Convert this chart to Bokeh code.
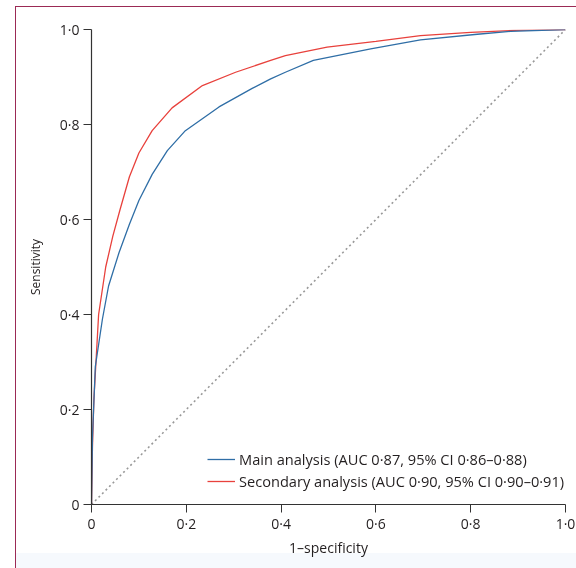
from bokeh.plotting import figure
from bokeh.models import Range1d, FixedTicker, Legend, LegendItem, InlineStyleSheet
from bokeh.embed import file_html
from bokeh.resources import INLINE

# Data
main_fpr = [0.0, 0.002, 0.008, 0.023, 0.036, 0.058, 0.08, 0.1, 0.128, 0.16, 0.198, 0.269, 0.339,
            0.378, 0.409, 0.468, 0.589, 0.694, 0.814, 0.884, 1.0]
main_tpr = [0.0, 0.14, 0.29, 0.39, 0.46, 0.53, 0.59, 0.64, 0.695, 0.745, 0.787, 0.837, 0.876,
            0.896, 0.91, 0.935, 0.959, 0.978, 0.99, 0.996, 1.0]
sec_fpr = [0.0, 0.002, 0.005, 0.015, 0.03, 0.045, 0.06, 0.08, 0.1, 0.128, 0.17, 0.234, 0.304,
           0.378, 0.409, 0.497, 0.6, 0.694, 0.8, 0.89, 1.0]
sec_tpr = [0.0, 0.12, 0.22, 0.40, 0.50, 0.565, 0.62, 0.69, 0.74, 0.787, 0.835, 0.882, 0.91,
           0.935, 0.945, 0.963, 0.975, 0.987, 0.994, 0.998, 1.0]
ref_x = [0.0, 1.0]
ref_y = [0.0, 1.0]
ticks = [0.0, 0.2, 0.4, 0.6, 0.8, 1.0]
tick_labels = ["0", "0·2", "0·4", "0·6", "0·8", "1·0"]
main_label = "Main analysis (AUC 0·87, 95% CI 0·86–0·88)"
sec_label = "Secondary analysis (AUC 0·90, 95% CI 0·90–0·91)"

FONT = "Open Sans"
TXT = "#231f20"

css = InlineStyleSheet(css="""
:host { position: relative; }
:host::after {
  content: ""; position: absolute; left: 15px; top: 6px; right: -20px; bottom: -20px;
  border-left: 1px solid #9b2a55; border-top: 1px solid #9b2a55;
  pointer-events: none; z-index: 10;
}
:host::before {
  content: ""; position: absolute; left: 16px; right: 0px; top: 553px; height: 15px;
  background: #f6f9fd; mix-blend-mode: multiply;
  pointer-events: none; z-index: 9;
}
""")

p = figure(width=576, height=568, output_backend="svg", toolbar_location=None,
           x_range=Range1d(0, 1), y_range=Range1d(0, 1),
           min_border_left=91, min_border_right=11, min_border_top=29, min_border_bottom=64)
p.stylesheets = [css]
p.outline_line_color = None
p.grid.visible = False
p.background_fill_color = "white"
p.border_fill_color = "white"

overrides = {t: l for t, l in zip(ticks, tick_labels)}
for ax in (p.xaxis[0], p.yaxis[0]):
    ax.ticker = FixedTicker(ticks=ticks)
    ax.major_label_overrides = overrides
    ax.minor_tick_line_color = None
    ax.major_tick_in = 0
    ax.major_tick_out = 8
    ax.axis_line_color = "#333333"
    ax.major_tick_line_color = "#333333"
    ax.axis_line_width = 1.2
    ax.major_label_text_font = FONT
    ax.major_label_text_font_size = "14px"
    ax.major_label_text_color = TXT
    ax.axis_label_text_font = FONT
    ax.axis_label_text_font_style = "normal"
    ax.axis_label_text_color = TXT
    ax.major_label_standoff = 4

p.xaxis.major_label_standoff = 1
p.xaxis.axis_label = "1–specificity"
p.yaxis.axis_label = "Sensitivity"
p.xaxis.axis_label_text_font_size = "14px"
p.yaxis.axis_label_text_font_size = "12px"
p.xaxis.axis_label_standoff = 2
p.yaxis.axis_label_standoff = 13

p.line(ref_x, ref_y, line_color="#999999", line_width=1.6, line_dash="2 3")
r_sec = p.line(sec_fpr, sec_tpr, line_color="#e8413c", line_width=1.3)
r_main = p.line(main_fpr, main_tpr, line_color="#2f6ea6", line_width=1.3)

legend = Legend(items=[LegendItem(label=main_label, renderers=[r_main]),
                       LegendItem(label=sec_label, renderers=[r_sec])],
                location=(116, 13))
legend.background_fill_alpha = 0
legend.border_line_color = None
legend.padding = 0
legend.margin = 0
legend.spacing = 2
legend.glyph_width = 28
legend.glyph_height = 20
legend.label_height = 20
legend.label_standoff = 4
legend.label_text_font = FONT
legend.label_text_font_size = "14.6px"
legend.label_text_color = TXT
p.add_layout(legend)

open("out.html", "w").write(file_html(p, INLINE))
